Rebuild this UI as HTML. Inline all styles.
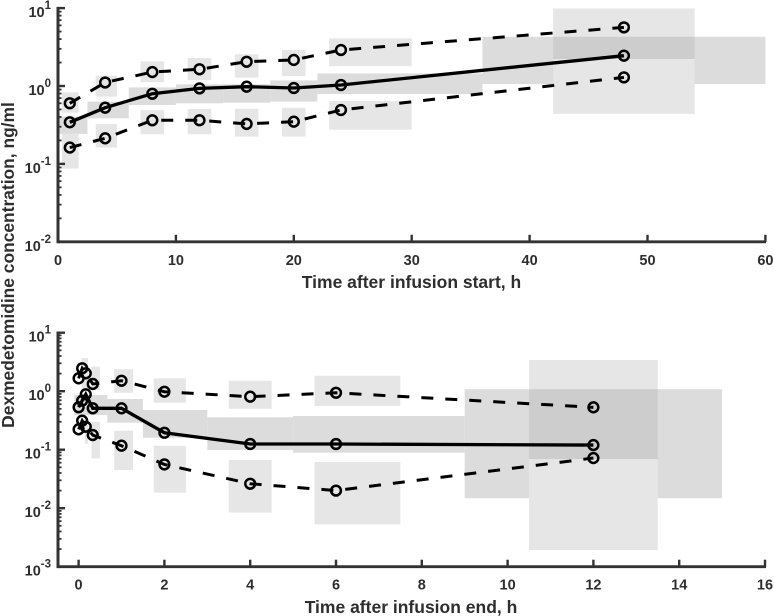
<!DOCTYPE html>
<html>
<head>
<meta charset="utf-8">
<title>Dexmedetomidine concentration</title>
<style>
html,body{margin:0;padding:0;background:#fff;}
svg{display:block;}
text{font-family:"Liberation Sans",Arial,sans-serif;font-weight:bold;fill:#2e2e2e;}
</style>
</head>
<body>
<svg id="chart" xmlns="http://www.w3.org/2000/svg" width="774" height="616" viewBox="0 0 774 616">
  <rect width="774" height="616" fill="#fff"/>
  <g id="top-panel"></g>
  <g id="bottom-panel"></g>
  <text x="411.5" y="288" font-size="17.5" text-anchor="middle">Time after infusion start, h</text>
  <text x="411" y="613" font-size="17.5" text-anchor="middle">Time after infusion end, h</text>
  <text transform="translate(14,265) rotate(-90)" font-size="17.4" text-anchor="middle">Dexmedetomidine concentration, ng/ml</text>
</svg>
<script>
// ---- Top panel data (time after infusion start) ----
const startTimes = [1, 4, 8, 12, 16, 20, 24, 48];
const startMedian = [0.342, 0.527, 0.796, 0.933, 0.98, 0.942, 1.03, 2.45];
const startUpper = [0.6, 1.11, 1.51, 1.64, 2.05, 2.16, 2.9, 5.66];
const startLower = [0.162, 0.213, 0.363, 0.363, 0.326, 0.348, 0.492, 1.29];
// bands: [time from, time to, conc low, conc high]
const startMedianBands = [[0,2.5,0.243,0.404],[2.5,6,0.385,0.63],[6,10,0.57,0.96],[10,14,0.6,1.05],[14,18,0.61,1.05],[18,22,0.63,1.18],[22,36,0.79,1.45],[36,60,1.06,4.29]];
const startUpperBands = [[0.33,1.75,0.455,0.83],[3.2,5,0.73,1.36],[7,9,1.12,2.07],[11,13,1.19,2.29],[15,17,1.28,2.55],[19,21,1.34,2.9],[23,30,1.8,4.08],[42,54,2.22,9.9]];
const startLowerBands = [[0.33,1.75,0.087,0.243],[3.2,5,0.162,0.326],[7,9,0.24,0.49],[11,13,0.24,0.507],[15,17,0.224,0.51],[19,21,0.224,0.526],[23,30,0.275,0.64],[42,54,0.44,2.22]];
const startXTicks = [0, 10, 20, 30, 40, 50, 60];
const startYExponents = [1, 0, -1, -2];

// ---- Bottom panel data (time after infusion end) ----
const endTimes = [0, 0.083, 0.167, 0.33, 1, 2, 4, 6, 12];
const endMedian = [0.531, 0.689, 0.885, 0.51, 0.51, 0.195, 0.125, 0.125, 0.12];
const endUpper = [1.66, 2.46, 2.02, 1.33, 1.51, 0.98, 0.805, 0.94, 0.53];
const endLower = [0.223, 0.313, 0.247, 0.178, 0.117, 0.056, 0.0262, 0.02, 0.072];
const endMedianBands = [[-0.1,0.67,0.39,0.86],[0.67,1.5,0.29,0.736],[1.5,3,0.16,0.477],[3,5,0.099,0.358],[5,9,0.089,0.377],[9,15,0.0148,1.08]];
const endUpperBands = [[0.07,0.22,1.05,3.7],[0.3,0.5,1.05,2.62],[0.83,1.27,0.94,2.37],[1.75,2.5,0.635,1.66],[3.5,4.5,0.5,1.51],[5.5,7.5,0.56,1.84],[10.5,13.5,0.069,3.41]];
const endLowerBands = [[0.15,0.22,0.126,0.264],[0.3,0.5,0.071,0.298],[0.83,1.27,0.045,0.211],[1.75,2.5,0.0184,0.117],[3.5,4.5,0.0084,0.0667],[5.5,7.5,0.0053,0.0617],[10.5,13.5,0.00193,0.069]];
const endXTicks = [0, 2, 4, 6, 8, 10, 12, 14, 16];
const endYExponents = [1, 0, -1, -2, -3];

const NS = 'http://www.w3.org/2000/svg';
const AXIS = '#333333';

function make(tag, parent, props) {
  const el = document.createElementNS(NS, tag);
  for (const k in props) el.setAttribute(k, props[k]);
  parent.appendChild(el);
  return el;
}

function drawPanel(g, cfg) {
  const X = t => cfg.x0 + cfg.xs * t;
  const Y = v => cfg.y0 - cfg.ys * Math.log10(v);
  const left = cfg.left, right = cfg.right;
  const bottom = Y(Math.pow(10, cfg.yExp[cfg.yExp.length - 1]));
  const top = Y(Math.pow(10, cfg.yExp[0]));

  function bands(rows, fill, opacity, name) {
    rows.forEach(function (b) {
      const r = make('rect', g, {
        x: Math.max(left, X(b[0])), y: Y(b[3]),
        width: X(b[1]) - Math.max(left, X(b[0])), height: Y(b[2]) - Y(b[3]),
        fill: fill, 'fill-opacity': opacity
      });
      
      
    });
  }
  bands(cfg.medianBands, '#dcdcdc', 1, 'median-range-box');
  bands(cfg.upperBands, '#a8a8a8', 0.286, 'upper-range-box');
  bands(cfg.lowerBands, '#e6e6e6', 1, 'lower-range-box');

  function series(values, width, dash, name) {
    const d = cfg.times.map((t, i) => (i ? 'L' : 'M') + X(t).toFixed(2) + ' ' + Y(values[i]).toFixed(2)).join('');
    const p = make('path', g, { d: d, fill: 'none', stroke: '#000', 'stroke-width': width });
    if (dash) p.setAttribute('stroke-dasharray', dash);
    
    
    values.forEach(function (v, i) {
      const c = make('circle', g, { cx: X(cfg.times[i]), cy: Y(v), r: 4.9, fill: 'none', stroke: '#000', 'stroke-width': 2.5 });
      
      
    });
  }
  series(cfg.upper, 3, '12 12', 'upper-percentile');
  series(cfg.lower, 3, '12 12', 'lower-percentile');
  series(cfg.median, 3.3, null, 'median');

  // y axis: minor + major ticks
  cfg.yExp.forEach(function (e, i) {
    const yMajor = Y(Math.pow(10, e));
    const tick = make('line', g, { x1: left, x2: left + 7, y1: yMajor, y2: yMajor, stroke: AXIS, 'stroke-width': 2.4 });
    
    
    const lab = make('text', g, { x: 51, y: yMajor + 9, 'font-size': 14.5, 'text-anchor': 'end' });
    
    
    lab.appendChild(document.createTextNode('10'));
    const sup = make('tspan', lab, { dy: -8, 'font-size': 11.5 });
    sup.textContent = String(e);
    if (i < cfg.yExp.length - 1) {
      for (let m = 2; m <= 9; m++) {
        const ym = Y(m * Math.pow(10, e - 1));
        const mt = make('line', g, { x1: left, x2: left + 3.5, y1: ym, y2: ym, stroke: AXIS, 'stroke-width': 1.8 });
        
        
      }
    }
  });

  // x axis ticks
  cfg.xTicks.forEach(function (t) {
    const tick = make('line', g, { x1: X(t), x2: X(t), y1: bottom, y2: bottom - 7, stroke: AXIS, 'stroke-width': 2.4 });
    
    
    const lab = make('text', g, { x: X(t), y: bottom + 23, 'font-size': 14.5, 'text-anchor': 'middle' });
    
    
    lab.textContent = String(t);
  });

  const yLine = make('line', g, { x1: left, x2: left, y1: top - 1.2, y2: bottom + 1.4, stroke: AXIS, 'stroke-width': 3 });
  
  
  const xLine = make('line', g, { x1: left, x2: right, y1: bottom, y2: bottom, stroke: AXIS, 'stroke-width': 2.8 });
  
  
}

drawPanel(document.getElementById('top-panel'), {
  x0: 58, xs: 11.79, y0: 86, ys: 77.9, left: 58, right: 766,
  times: startTimes, median: startMedian, upper: startUpper, lower: startLower,
  medianBands: startMedianBands, upperBands: startUpperBands, lowerBands: startLowerBands,
  xTicks: startXTicks, yExp: startYExponents
});
drawPanel(document.getElementById('bottom-panel'), {
  x0: 78.6, xs: 42.9, y0: 391.2, ys: 58.5, left: 58, right: 766,
  times: endTimes, median: endMedian, upper: endUpper, lower: endLower,
  medianBands: endMedianBands, upperBands: endUpperBands, lowerBands: endLowerBands,
  xTicks: endXTicks, yExp: endYExponents
});
</script>
</body>
</html>
